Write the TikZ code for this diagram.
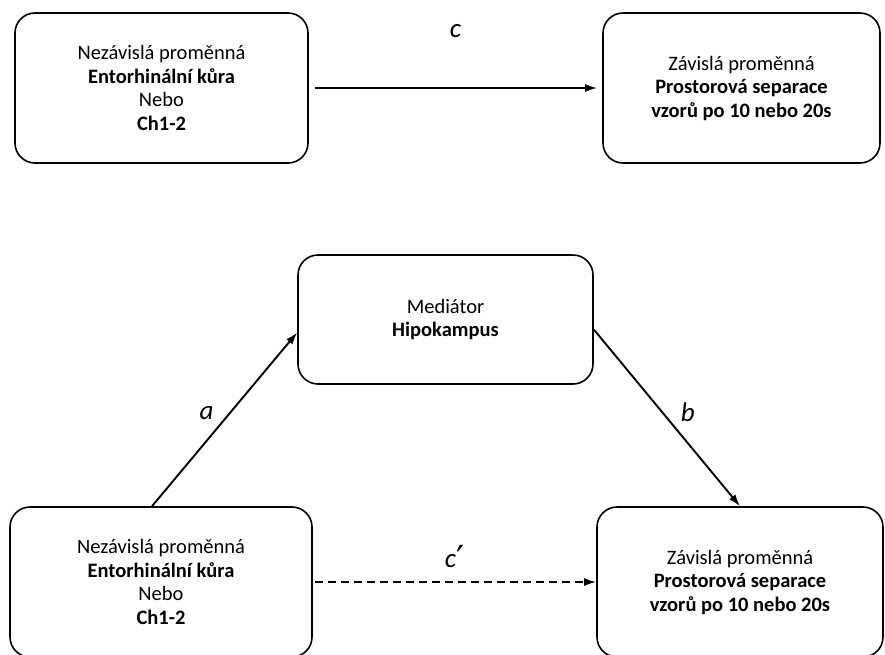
\documentclass[tikz,border=0pt]{standalone}
\usepackage{fontspec}
\setmainfont{Carlito}
\newfontfamily\primefont{DejaVu Sans}
\usetikzlibrary{arrows.meta}
\begin{document}
\begin{tikzpicture}[x=1pt,y=-1pt,
  box/.style={draw,line width=1.6pt,rounded corners=20pt,align=center,inner sep=0pt,
    font=\fontsize{20.5}{23.5}\selectfont},
  arr/.style={-{Latex[length=12pt,width=8pt]},line width=1.9pt},
  lab/.style={font=\fontsize{27}{30}\selectfont\itshape}]
\pgfmathsetmacro{\hb}{150}
\useasboundingbox (0,0) rectangle (885,654);
\node[box,minimum width=293pt,minimum height=\hb pt](tl) at (161.5,88)
  {Nezávislá proměnná\\\textbf{Entorhinální kůra}\\Nebo\\\textbf{Ch1-2}};
\node[box,minimum width=277pt,minimum height=\hb pt](tr) at (741.5,88)
  {Závislá proměnná\\\textbf{Prostorová separace}\\\textbf{vzorů po 10 nebo 20s}};
\node[box,minimum width=295pt,minimum height=129pt](med) at (445.5,319.5)
  {Mediátor\\\textbf{Hipokampus}};
\node[box,minimum width=302pt,minimum height=\hb pt](bl) at (161,582)
  {Nezávislá proměnná\\\textbf{Entorhinální kůra}\\Nebo\\\textbf{Ch1-2}};
\node[box,minimum width=286pt,minimum height=\hb pt](br) at (740,582)
  {Závislá proměnná\\\textbf{Prostorová separace}\\\textbf{vzorů po 10 nebo 20s}};
\draw[arr,shorten <=6pt,shorten >=5pt](tl)--node[lab,yshift=57pt]{c}(tr);
\draw[arr]([xshift=-9pt]bl.north)--node[lab,xshift=-18pt,yshift=6pt]{a}([yshift=-13pt]med.west);
\draw[arr]([yshift=-10pt]med.east)--node[lab,xshift=21pt,yshift=6pt]{b}(br.north);
\draw[arr,dash pattern=on 8pt off 5pt,shorten <=2pt](bl)--node[lab,yshift=24pt]{c\raisebox{-4pt}{\primefont\upshape\fontsize{36}{36}\selectfont ′}}(br);
\end{tikzpicture}
\end{document}
